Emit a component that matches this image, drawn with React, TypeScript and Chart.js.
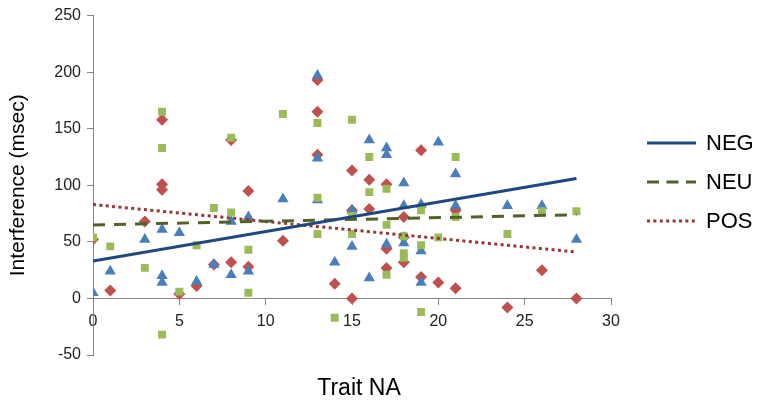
import React, { useEffect, useRef } from "react";
import { Chart, registerables } from "chart.js";
Chart.register(...registerables);

// NEG series (blue triangles)
const negX = [0, 1, 3, 4, 4, 4, 5, 6, 7, 8, 8, 9, 9, 11, 13, 13, 13, 14, 15, 15, 16, 16, 17, 17, 17, 18, 18, 18, 19, 19, 19, 20, 21, 21, 24, 26, 28];
const negY = [5, 24, 52, 61, 20, 14, 58, 15, 30, 68, 21, 72, 24, 88, 197, 124, 87, 32, 78, 46, 140, 18, 133, 127, 48, 102, 82, 49, 83, 42, 14, 138, 110, 82, 82, 82, 52];

// NEU series (green squares)
const neuX = [0, 1, 3, 4, 4, 4, 5, 6, 7, 8, 8, 9, 9, 11, 13, 13, 13, 14, 15, 15, 15, 16, 16, 17, 17, 17, 18, 18, 18, 19, 19, 19, 20, 21, 21, 24, 26, 28];
const neuY = [54, 46, 27, 165, 133, -32, 6, 47, 80, 142, 76, 43, 5, 163, 155, 89, 57, -17, 158, 73, 57, 125, 94, 97, 65, 21, 55, 40, 36, 78, 47, -12, 54, 125, 72, 57, 77, 77];

// POS series (red diamonds)
const posX = [0, 1, 3, 4, 4, 4, 5, 6, 7, 8, 8, 9, 9, 11, 13, 13, 13, 14, 15, 15, 15, 16, 16, 17, 17, 17, 18, 18, 18, 19, 19, 20, 21, 21, 24, 26, 28];
const posY = [52, 7, 68, 158, 101, 96, 4, 11, 30, 140, 32, 95, 28, 51, 193, 165, 127, 13, 113, 78, 0, 105, 79, 101, 44, 27, 72, 54, 32, 131, 19, 14, 78, 9, -8, 25, 0];

// Linear trend lines: [start x, end x] and [start y, end y]
const trendX = [0, 28];
const negTrend = [33, 106];
const neuTrend = [65, 74];
const posTrend = [83, 41];

const seriesNames = ["NEG", "NEU", "POS"];
const xTicksRange = [0, 30];
const yTicksRange = [-50, 250];

const toPts = (xs: number[], ys: number[]) => xs.map((x, i) => ({ x, y: ys[i] }));

const C_NEG = "#4A7EBB";
const C_NEU = "#9BBB59";
const C_POS = "#C0504D";
const L_NEG = "#1F497D";
const L_NEU = "#4F6228";
const L_POS = "#953735";
const DASH_NEU = [12, 9];
const DASH_POS = [3, 3.4];
const FONT = "'Liberation Sans', Arial, sans-serif";

export default function App() {
  const ref = useRef<HTMLCanvasElement>(null);
  useEffect(() => {
    if (!ref.current) return;
    const legendStyles = [
      { color: L_NEG, dash: [] as number[] },
      { color: L_NEU, dash: [12, 7.5] },
      { color: L_POS, dash: DASH_POS },
    ];
    const extraPlugin = {
      id: "extras",
      afterDraw(chart: any) {
        const ctx = chart.ctx as CanvasRenderingContext2D;
        ctx.save();
        seriesNames.forEach((name, i) => {
          const y = 143 + i * 39;
          ctx.strokeStyle = legendStyles[i].color;
          ctx.lineWidth = 3;
          ctx.setLineDash(legendStyles[i].dash);
          ctx.beginPath();
          ctx.moveTo(647, y);
          ctx.lineTo(696, y);
          ctx.stroke();
          ctx.setLineDash([]);
          ctx.fillStyle = "#000";
          ctx.font = "22px " + FONT;
          ctx.textBaseline = "middle";
          ctx.textAlign = "left";
          ctx.fillText(name, 706, y + 1);
        });
        ctx.font = "23px " + FONT;
        ctx.textAlign = "center";
        ctx.textBaseline = "middle";
        ctx.fillText("Trait NA", 359, 389);
        ctx.restore();
      },
    };
    const chart = new Chart(ref.current, {
      type: "scatter",
      data: {
        datasets: [
          {
            type: "line",
            label: "NEG trend",
            data: toPts(trendX, negTrend),
            borderColor: L_NEG,
            borderWidth: 3,
            pointRadius: 0,
            order: 0,
          } as any,
          {
            type: "line",
            label: "NEU trend",
            data: toPts(trendX, neuTrend),
            borderColor: L_NEU,
            borderWidth: 3,
            borderDash: DASH_NEU,
            pointRadius: 0,
            order: 0,
          } as any,
          {
            type: "line",
            label: "POS trend",
            data: toPts(trendX, posTrend),
            borderColor: L_POS,
            borderWidth: 3,
            borderDash: DASH_POS,
            pointRadius: 0,
            order: 0,
          } as any,
          {
            label: "NEU",
            data: toPts(neuX, neuY),
            pointStyle: "rect",
            pointRadius: 5.6,
            backgroundColor: C_NEU,
            borderColor: C_NEU,
            borderWidth: 0,
            order: 1,
          },
          {
            label: "NEG",
            data: toPts(negX, negY),
            pointStyle: "triangle",
            pointRadius: 6.5,
            backgroundColor: C_NEG,
            borderColor: C_NEG,
            borderWidth: 0,
            order: 2,
          },
          {
            label: "POS",
            data: toPts(posX, posY),
            pointStyle: "rectRot",
            pointRadius: 6,
            backgroundColor: C_POS,
            borderColor: C_POS,
            borderWidth: 0,
            order: 3,
          },
        ],
      },
      options: {
        responsive: false,
        animation: false,
        devicePixelRatio: 1,
        layout: { padding: { left: 0, right: 149, top: 8, bottom: 51 } },
        plugins: { legend: { display: false }, tooltip: { enabled: false } },
        scales: {
          x: {
            type: "linear",
            position: { y: 0 } as any,
            min: xTicksRange[0],
            max: xTicksRange[1],
            ticks: {
              stepSize: 5,
              color: "#222",
              font: { size: 16, family: FONT },
              padding: 8,
            },
            grid: { drawOnChartArea: false, tickLength: 6, color: "#868686" },
            border: { color: "#868686", width: 1 },
          },
          y: {
            type: "linear",
            min: yTicksRange[0],
            max: yTicksRange[1],
            afterFit: (scale: any) => {
              scale.width = 93;
            },
            ticks: {
              stepSize: 50,
              color: "#222",
              font: { size: 16, family: FONT },
              padding: 6,
            },
            grid: { drawOnChartArea: false, tickLength: 6, color: "#868686" },
            border: { color: "#868686", width: 1 },
            title: {
              display: true,
              text: "Interference (msec)",
              color: "#000",
              font: { size: 21, family: FONT },
              padding: { top: 6, bottom: 0 },
            },
          },
        },
      },
      plugins: [extraPlugin],
    });
    return () => chart.destroy();
  }, []);
  return (
    <div style={{ position: "fixed", left: 0, top: 0, width: 760, height: 406, background: "#fff" }}>
      <canvas ref={ref} width={760} height={406} />
    </div>
  );
}
